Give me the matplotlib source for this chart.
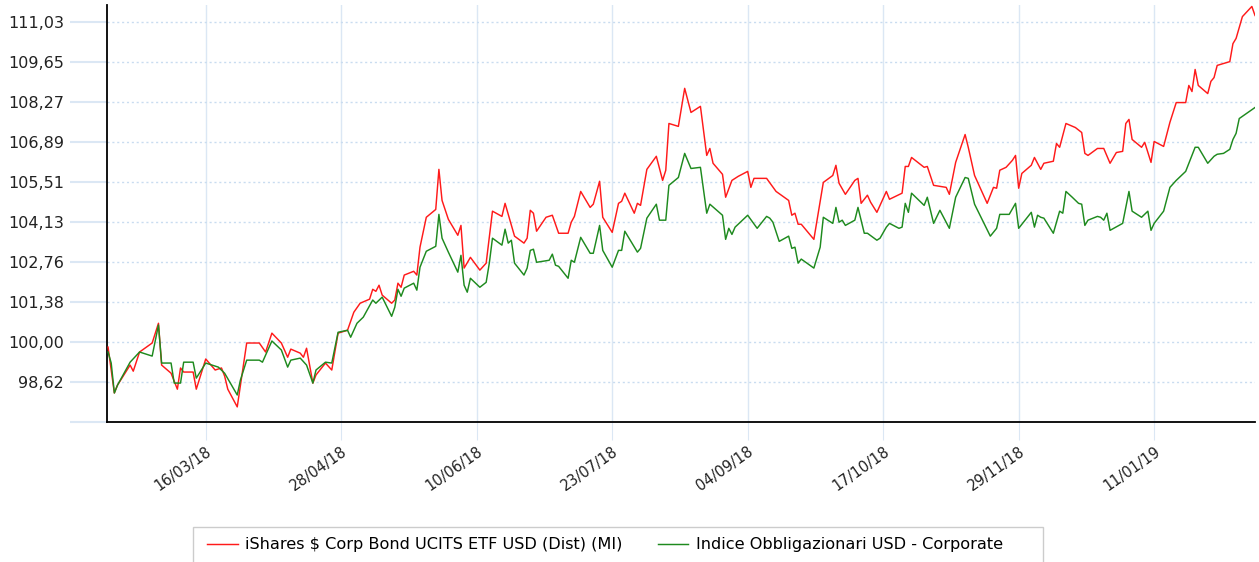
import matplotlib
matplotlib.use('Agg')
import matplotlib.pyplot as plt
from matplotlib.patches import Rectangle
import pandas as pd

# series names
etf_name = 'iShares $ Corp Bond UCITS ETF USD (Dist) (MI)'
idx_name = 'Indice Obbligazionari USD - Corporate'

# ETF (red) - dates and values
etf_dates = [
    '2018-02-13', '2018-02-15', '2018-02-16', '2018-02-20', '2018-02-21', '2018-02-23',
    '2018-02-27', '2018-03-01', '2018-03-02', '2018-03-05', '2018-03-07', '2018-03-08',
    '2018-03-09', '2018-03-12', '2018-03-13', '2018-03-16', '2018-03-19', '2018-03-21',
    '2018-03-22', '2018-03-23', '2018-03-26', '2018-03-29', '2018-04-02', '2018-04-04',
    '2018-04-06', '2018-04-09', '2018-04-11', '2018-04-12', '2018-04-15', '2018-04-16',
    '2018-04-17', '2018-04-19', '2018-04-20', '2018-04-23', '2018-04-25', '2018-04-27',
    '2018-04-30', '2018-05-02', '2018-05-04', '2018-05-07', '2018-05-08', '2018-05-09',
    '2018-05-10', '2018-05-11', '2018-05-14', '2018-05-15', '2018-05-16', '2018-05-17',
    '2018-05-18', '2018-05-21', '2018-05-22', '2018-05-23', '2018-05-25', '2018-05-28',
    '2018-05-29', '2018-05-30', '2018-06-01', '2018-06-04', '2018-06-05', '2018-06-06',
    '2018-06-08', '2018-06-11', '2018-06-13', '2018-06-15', '2018-06-18', '2018-06-19',
    '2018-06-21', '2018-06-22', '2018-06-25', '2018-06-26', '2018-06-27', '2018-06-28',
    '2018-06-29', '2018-07-02', '2018-07-04', '2018-07-06', '2018-07-09', '2018-07-10',
    '2018-07-11', '2018-07-13', '2018-07-16', '2018-07-17', '2018-07-19', '2018-07-20',
    '2018-07-23', '2018-07-25', '2018-07-26', '2018-07-27', '2018-07-30', '2018-07-31',
    '2018-08-01', '2018-08-03', '2018-08-06', '2018-08-08', '2018-08-09', '2018-08-10',
    '2018-08-13', '2018-08-15', '2018-08-17', '2018-08-20', '2018-08-22', '2018-08-23',
    '2018-08-24', '2018-08-27', '2018-08-28', '2018-08-30', '2018-09-01', '2018-09-04',
    '2018-09-05', '2018-09-06', '2018-09-10', '2018-09-13', '2018-09-17', '2018-09-18',
    '2018-09-19', '2018-09-20', '2018-09-21', '2018-09-25', '2018-09-28', '2018-10-01',
    '2018-10-02', '2018-10-03', '2018-10-05', '2018-10-08', '2018-10-09', '2018-10-10',
    '2018-10-12', '2018-10-13', '2018-10-15', '2018-10-18', '2018-10-19', '2018-10-23',
    '2018-10-24', '2018-10-25', '2018-10-26', '2018-10-30', '2018-10-31', '2018-11-02',
    '2018-11-06', '2018-11-07', '2018-11-09', '2018-11-12', '2018-11-13', '2018-11-15',
    '2018-11-19', '2018-11-21', '2018-11-22', '2018-11-23', '2018-11-25', '2018-11-27',
    '2018-11-28', '2018-11-29', '2018-11-30', '2018-12-03', '2018-12-04', '2018-12-06',
    '2018-12-07', '2018-12-10', '2018-12-11', '2018-12-12', '2018-12-14', '2018-12-17',
    '2018-12-19', '2018-12-20', '2018-12-21', '2018-12-24', '2018-12-26', '2018-12-28',
    '2018-12-30', '2019-01-01', '2019-01-02', '2019-01-03', '2019-01-04', '2019-01-07',
    '2019-01-08', '2019-01-10', '2019-01-11', '2019-01-14', '2019-01-16', '2019-01-18',
    '2019-01-21', '2019-01-22', '2019-01-23', '2019-01-24', '2019-01-25', '2019-01-28',
    '2019-01-29', '2019-01-30', '2019-01-31', '2019-02-04', '2019-02-05', '2019-02-06',
    '2019-02-08', '2019-02-11', '2019-02-12',
]
etf_values = [
    99.82, 98.24, 98.51, 99.20, 98.99, 99.65,
    99.96, 100.64, 99.20, 98.92, 98.37, 99.10,
    98.96, 98.96, 98.37, 99.41, 99.03, 99.10,
    98.82, 98.37, 97.76, 99.96, 99.96, 99.65,
    100.30, 99.96, 99.47, 99.75, 99.61, 99.47,
    99.78, 98.58, 98.86, 99.27, 99.03, 100.30,
    100.40, 101.02, 101.33, 101.47, 101.81, 101.74,
    101.95, 101.61, 101.33, 101.44, 102.02, 101.88,
    102.30, 102.43, 102.30, 103.26, 104.29, 104.56,
    105.94, 104.87, 104.22, 103.67, 104.01, 102.54,
    102.91, 102.47, 102.71, 104.50, 104.32, 104.77,
    104.01, 103.64, 103.40, 103.57, 104.53, 104.43,
    103.81, 104.29, 104.36, 103.74, 103.74, 104.12,
    104.32, 105.18, 104.63, 104.74, 105.53, 104.29,
    103.77, 104.77, 104.84, 105.12, 104.43, 104.77,
    104.70, 105.94, 106.39, 105.56, 105.91, 107.52,
    107.42, 108.73, 107.90, 108.11, 106.42, 106.66,
    106.15, 105.77, 104.98, 105.56, 105.70, 105.87,
    105.32, 105.63, 105.63, 105.18, 104.87, 104.36,
    104.43, 104.05, 104.05, 103.53, 105.49, 105.73,
    106.08, 105.46, 105.08, 105.56, 105.63, 104.77,
    105.05, 104.81, 104.46, 105.18, 104.91, 105.12,
    106.04, 106.04, 106.35, 106.01, 106.04, 105.39,
    105.32, 105.08, 106.18, 107.14, 106.70, 105.73,
    104.77, 105.32, 105.29, 105.91, 106.01, 106.25,
    106.42, 105.29, 105.80, 106.08, 106.35, 105.94,
    106.15, 106.22, 106.83, 106.70, 107.52, 107.38,
    107.21, 106.49, 106.42, 106.66, 106.66, 106.15,
    106.52, 106.56, 107.52, 107.66, 106.97, 106.70,
    106.87, 106.18, 106.90, 106.73, 107.56, 108.24,
    108.24, 108.83, 108.62, 109.38, 108.83, 108.55,
    108.97, 109.10, 109.52, 109.65, 110.27, 110.45,
    111.20, 111.55, 111.24,
]

# index (green)
idx_dates = [
    '2018-02-13', '2018-02-14', '2018-02-15', '2018-02-16', '2018-02-20', '2018-02-23',
    '2018-02-27', '2018-03-01', '2018-03-02', '2018-03-05', '2018-03-06', '2018-03-08',
    '2018-03-09', '2018-03-12', '2018-03-13', '2018-03-16', '2018-03-20', '2018-03-22',
    '2018-03-26', '2018-03-27', '2018-03-29', '2018-04-02', '2018-04-03', '2018-04-06',
    '2018-04-09', '2018-04-11', '2018-04-12', '2018-04-15', '2018-04-17', '2018-04-19',
    '2018-04-20', '2018-04-23', '2018-04-25', '2018-04-27', '2018-04-30', '2018-05-01',
    '2018-05-03', '2018-05-05', '2018-05-08', '2018-05-09', '2018-05-11', '2018-05-14',
    '2018-05-15', '2018-05-16', '2018-05-17', '2018-05-18', '2018-05-21', '2018-05-22',
    '2018-05-23', '2018-05-25', '2018-05-28', '2018-05-29', '2018-05-30', '2018-06-01',
    '2018-06-04', '2018-06-05', '2018-06-06', '2018-06-07', '2018-06-08', '2018-06-11',
    '2018-06-13', '2018-06-14', '2018-06-15', '2018-06-18', '2018-06-19', '2018-06-20',
    '2018-06-21', '2018-06-22', '2018-06-25', '2018-06-26', '2018-06-27', '2018-06-28',
    '2018-06-29', '2018-07-03', '2018-07-04', '2018-07-05', '2018-07-06', '2018-07-09',
    '2018-07-10', '2018-07-11', '2018-07-13', '2018-07-16', '2018-07-17', '2018-07-19',
    '2018-07-20', '2018-07-23', '2018-07-25', '2018-07-26', '2018-07-27', '2018-07-31',
    '2018-08-01', '2018-08-03', '2018-08-06', '2018-08-07', '2018-08-09', '2018-08-10',
    '2018-08-13', '2018-08-15', '2018-08-17', '2018-08-20', '2018-08-22', '2018-08-23',
    '2018-08-27', '2018-08-28', '2018-08-29', '2018-08-30', '2018-08-31', '2018-09-04',
    '2018-09-07', '2018-09-10', '2018-09-11', '2018-09-12', '2018-09-14', '2018-09-17',
    '2018-09-18', '2018-09-19', '2018-09-20', '2018-09-21', '2018-09-25', '2018-09-27',
    '2018-09-28', '2018-10-01', '2018-10-02', '2018-10-03', '2018-10-04', '2018-10-05',
    '2018-10-08', '2018-10-09', '2018-10-11', '2018-10-12', '2018-10-15', '2018-10-16',
    '2018-10-18', '2018-10-19', '2018-10-22', '2018-10-23', '2018-10-24', '2018-10-25',
    '2018-10-26', '2018-10-30', '2018-10-31', '2018-11-02', '2018-11-04', '2018-11-07',
    '2018-11-09', '2018-11-12', '2018-11-13', '2018-11-15', '2018-11-20', '2018-11-22',
    '2018-11-23', '2018-11-26', '2018-11-28', '2018-11-29', '2018-12-03', '2018-12-04',
    '2018-12-05', '2018-12-06', '2018-12-07', '2018-12-10', '2018-12-12', '2018-12-13',
    '2018-12-14', '2018-12-16', '2018-12-18', '2018-12-19', '2018-12-20', '2018-12-21',
    '2018-12-24', '2018-12-25', '2018-12-26', '2018-12-27', '2018-12-28', '2019-01-01',
    '2019-01-03', '2019-01-04', '2019-01-07', '2019-01-09', '2019-01-10', '2019-01-11',
    '2019-01-14', '2019-01-16', '2019-01-18', '2019-01-21', '2019-01-22', '2019-01-24',
    '2019-01-25', '2019-01-28', '2019-01-30', '2019-01-31', '2019-02-02', '2019-02-04',
    '2019-02-05', '2019-02-06', '2019-02-07', '2019-02-12',
]
idx_values = [
    99.65, 99.27, 98.24, 98.51, 99.30, 99.65,
    99.51, 100.58, 99.27, 99.27, 98.58, 98.58,
    99.30, 99.30, 98.75, 99.27, 99.13, 98.92,
    98.17, 98.68, 99.37, 99.37, 99.30, 100.03,
    99.72, 99.13, 99.37, 99.44, 99.20, 98.58,
    99.03, 99.30, 99.27, 100.33, 100.40, 100.16,
    100.64, 100.85, 101.44, 101.33, 101.54, 100.88,
    101.19, 101.81, 101.57, 101.85, 102.02, 101.78,
    102.57, 103.12, 103.29, 104.39, 103.57, 103.09,
    102.40, 102.98, 101.95, 101.71, 102.19, 101.88,
    102.05, 102.71, 103.57, 103.33, 103.88, 103.40,
    103.50, 102.71, 102.30, 102.54, 103.15, 103.19,
    102.74, 102.81, 103.02, 102.64, 102.60, 102.19,
    102.81, 102.74, 103.60, 103.05, 103.05, 104.01,
    103.15, 102.57, 103.15, 103.15, 103.81, 103.09,
    103.22, 104.26, 104.74, 104.19, 104.19, 105.39,
    105.66, 106.49, 105.97, 106.01, 104.43, 104.74,
    104.36, 103.53, 103.91, 103.70, 103.95, 104.36,
    103.91, 104.32, 104.26, 104.12, 103.46, 103.64,
    103.22, 103.26, 102.71, 102.85, 102.54, 103.26,
    104.29, 104.08, 104.63, 104.12, 104.19, 104.01,
    104.19, 104.63, 103.74, 103.74, 103.50, 103.57,
    103.95, 104.08, 103.91, 103.95, 104.77, 104.46,
    105.12, 104.70, 104.98, 104.08, 104.53, 103.91,
    104.98, 105.66, 105.63, 104.74, 103.64, 103.91,
    104.39, 104.39, 104.77, 103.91, 104.46, 103.95,
    104.36, 104.29, 104.26, 103.74, 104.50, 104.43,
    105.18, 104.98, 104.77, 104.74, 104.01, 104.19,
    104.32, 104.29, 104.19, 104.43, 103.84, 104.08,
    105.18, 104.50, 104.29, 104.50, 103.84, 104.08,
    104.50, 105.32, 105.56, 105.87, 106.15, 106.70,
    106.70, 106.15, 106.39, 106.46, 106.49, 106.63,
    106.97, 107.18, 107.69, 108.07,
]

# axis ticks
y_ticks = [97.24, 98.62, 100.00, 101.38, 102.76, 104.13, 105.51, 106.89, 108.27, 109.65, 111.03]
x_ticks = ['2018-03-16', '2018-04-28', '2018-06-10', '2018-07-23',
           '2018-09-04', '2018-10-17', '2018-11-29', '2019-01-11']

plt.rcParams['font.family'] = ['DejaVu Sans']

etf_x = pd.to_datetime(etf_dates)
idx_x = pd.to_datetime(idx_dates)

W, H = 1259, 562
fig = plt.figure(figsize=(W / 100, H / 100), dpi=100)
ax = fig.add_axes([107 / W, 1 - 422 / H, (1255 - 107) / W, (422 - 5) / H])

grid_blue = '#dbe7f4'

ax.plot(etf_x, etf_values, color='#ff1a1a', lw=1.05, label=etf_name, zorder=3)
ax.plot(idx_x, idx_values, color='#1e8a1e', lw=1.05, label=idx_name, zorder=3)

ax.set_xlim(etf_x[0] - pd.Timedelta(hours=8), etf_x[-1])
ax.set_ylim(97.24, 111.6)

# y axis: comma decimals, long light-blue ticks, dotted grid
ax.set_yticks(y_ticks)
ax.set_yticklabels([''] + [f'{v:.2f}'.replace('.', ',') for v in y_ticks[1:]])
ax.tick_params(axis='y', length=26.6, width=1.5, color=grid_blue, pad=4.5,
               labelsize=11.5, labelcolor='#222222')
ax.yaxis.grid(True, linestyle=(0, (1.5, 2)), color='#c9dcf0', lw=1)

# x axis: date ticks, solid vertical grid
xt = pd.to_datetime(x_ticks)
ax.set_xticks(xt)
ax.set_xticklabels([d.strftime('%d/%m/%y') for d in xt], rotation=35,
                   ha='right', rotation_mode='anchor')
ax.tick_params(axis='x', length=13, width=0.8, color=grid_blue, pad=3,
               labelsize=10.5, labelcolor='#222222')
ax.xaxis.grid(True, linestyle='-', color=grid_blue, lw=1)
ax.set_axisbelow(True)

for side in ['top', 'right']:
    ax.spines[side].set_visible(False)
for side in ['left', 'bottom']:
    ax.spines[side].set_color('black')
    ax.spines[side].set_linewidth(1.3)

# legend box (cut by the bottom edge like in the original)
fig.patches.append(Rectangle((193 / W, -0.05), (1043 - 193) / W, 0.05 + 35 / H,
                             transform=fig.transFigure, fill=False,
                             edgecolor='#cccccc', lw=1))
fig.legend(loc='center left', bbox_to_anchor=(207 / W, 1 - 545 / H),
           bbox_transform=fig.transFigure, ncol=2, frameon=False,
           fontsize=11.6, handlelength=1.9, handletextpad=0.45,
           columnspacing=2.2, borderpad=0, borderaxespad=0)

fig.savefig('out.png', dpi=100)
